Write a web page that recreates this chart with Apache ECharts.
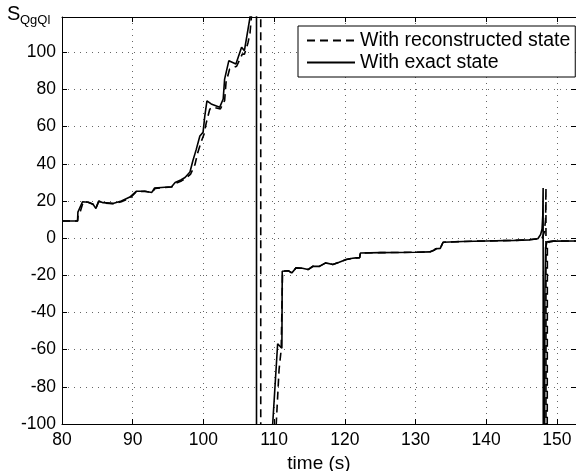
<!DOCTYPE html>
<html>
<head>
<meta charset="utf-8">
<script src="https://cdn.jsdelivr.net/npm/echarts@6/dist/echarts.min.js"></script>
<style>
  html, body { margin: 0; padding: 0; background: #fff; }
  #chart { width: 576px; height: 471px; }
</style>
</head>
<body>
<div id="chart"></div>
<script>
// time (s) and S_QgQl; large values are the jumps that leave the axes
var exactTime = [80, 82.2, 82.25, 82.5, 82.9, 83.7, 84.4, 84.8, 85.2, 85.8, 87.2, 88.4, 89.6, 90.5, 91.7, 92.7, 93.1, 95.5, 96, 96.8, 97.4, 98.1, 98.5, 99, 99.5, 99.95, 100.2, 100.5, 101.1, 102.3, 102.8, 103, 103.6, 104.6, 105.4, 105.8, 106.6, 106.9, 107.3, 107.5, 107.52, 109.3, 109.8, 110.5, 110.8, 111.1, 111.15, 111.4, 112, 112.5, 113.1, 114, 114.8, 115.5, 116.4, 117.3, 118.3, 119.2, 120.2, 121.1, 121.6, 122.1, 122.2, 125, 130, 132, 132.6, 132.9, 133.5, 133.9, 136.7, 140, 144, 146.1, 147.3, 147.7, 147.9, 148.0, 148.05, 148.1, 148.12, 148.3, 148.4, 148.6, 149.5, 152.7];
var exactS = [9.2, 9.2, 14, 14.5, 19.6, 19.3, 18.2, 16, 20, 19.1, 18.7, 20, 22.1, 25.2, 25.2, 24.6, 27, 27.7, 29.9, 31.3, 32.6, 35.6, 41.5, 47.9, 55, 56.9, 65.8, 73.9, 72.2, 70.4, 74.9, 85.6, 95.5, 93.7, 102.7, 100.9, 119, 200, 800, 5000, -5000, -400, -100, -56.8, -58, -59.2, -17.8, -17.3, -17.5, -18.7, -16, -16.2, -16.9, -15.1, -15.2, -13.3, -14.2, -13, -11.5, -10.8, -10.6, -10.5, -8, -7.8, -7.6, -7.4, -6.5, -5.7, -5.5, -2.2, -1.8, -1.5, -1.2, -0.9, -0.3, 2, 5, 12, 27, 27, -400, -30, -5, -2, -1.6, -1.5];

var reconTime = [80, 82.2, 82.3, 82.6, 83, 83.7, 84.4, 84.8, 85.2, 85.8, 87.2, 88.4, 89.6, 90.5, 91.7, 92.7, 93.2, 95.5, 96.1, 96.9, 97.5, 98.2, 98.8, 99.2, 99.7, 100.1, 100.4, 100.9, 101.4, 102.4, 103, 103.2, 103.7, 104.7, 105.5, 105.8, 106.3, 106.6, 106.8, 107.2, 107.8, 108.1, 108.12, 109.8, 110.3, 110.7, 111.0, 111.15, 111.2, 111.4, 112, 112.5, 113.1, 114, 114.8, 115.5, 116.4, 117.3, 118.3, 119.2, 120.2, 121.1, 121.6, 122.1, 122.2, 125, 130, 132, 132.6, 132.9, 133.5, 133.9, 136.7, 140, 144, 146.1, 147.3, 147.9, 148.2, 148.4, 148.45, 148.55, 148.57, 148.6, 148.65, 148.9, 149.5, 152.7];
var reconS = [9.2, 9.2, 13, 14.5, 19.5, 19.3, 18.2, 16.3, 19.8, 19, 18.5, 19.6, 21.5, 25, 25.2, 24.6, 26.8, 27.5, 29.5, 30.8, 32.2, 34.5, 39.5, 46, 52, 56, 62, 69.4, 70.5, 69.5, 74, 83.8, 90.9, 92.5, 99, 99, 105, 110.6, 119.6, 250, 1000, 5000, -5000, -400, -100, -70.8, -60, -59, -17.8, -17.3, -17.5, -18.7, -16, -16.2, -16.9, -15.1, -15.2, -13.3, -14.2, -13, -11.5, -10.8, -10.6, -10.5, -8, -7.8, -7.6, -7.4, -6.5, -5.7, -5.5, -2.2, -1.8, -1.5, -1.2, -0.9, -0.3, 0, 3, 10, 27, 27, -5000, -300, -4.3, -2, -1.6, -1.5];

var xTicks = [80, 90, 100, 110, 120, 130, 140, 150];
var yTicks = [-100, -80, -60, -40, -20, 0, 20, 40, 60, 80, 100];

function pairs(t, v) {
  var out = [];
  t.forEach(function (x, i) { out.push([x, v[i]]); });
  return out;
}

var chart = echarts.init(document.getElementById('chart'));
var font = "'Liberation Sans', Arial, Helvetica, sans-serif";

var option = {
  animation: false,
  backgroundColor: '#fff',
  textStyle: { fontFamily: font, color: '#000' },
  grid: { left: 62, right: 0, top: 17, bottom: 47, containLabel: false, outerBoundsMode: 'none' },
  legend: {
    left: 298,
    top: 26,
    orient: 'vertical',
    backgroundColor: '#fff',
    borderColor: '#000',
    borderWidth: 1,
    borderRadius: 0,
    padding: [4, 5, 4, 8],
    itemWidth: 48,
    itemHeight: 14,
    itemGap: 1,
    itemStyle: { opacity: 0 },
    textStyle: { fontFamily: font, fontSize: 19.5, color: '#000', lineHeight: 21 },
    data: ['With reconstructed state', 'With exact state']
  },
  xAxis: [{
    type: 'value',
    min: 80,
    max: 152.7,
    interval: 10,
    name: 'time (s)',
    nameLocation: 'middle',
    nameGap: 24,
    nameTextStyle: { fontFamily: font, fontSize: 19, color: '#000' },
    axisLine: { show: true, onZero: false, lineStyle: { color: '#000', width: 1 } },
    axisTick: { show: true, inside: true, length: 5, lineStyle: { color: '#000' } },
    axisLabel: {
      fontFamily: font, fontSize: 17.5, color: '#000', margin: 7,
      formatter: function (v) { return xTicks.indexOf(v) >= 0 ? String(v) : ''; }
    },
    splitLine: { show: true, lineStyle: { color: '#666', width: 1, type: [1, 5] } }
  }, {
    type: 'value',
    position: 'top',
    min: 80,
    max: 152.7,
    interval: 10,
    axisLine: { show: true, onZero: false, lineStyle: { color: '#000', width: 1 } },
    axisTick: { show: true, inside: true, length: 5, lineStyle: { color: '#000' } },
    axisLabel: { show: false },
    splitLine: { show: false }
  }],
  yAxis: [{
    type: 'value',
    min: -100,
    max: 119,
    interval: 20,
    axisLine: { show: true, onZero: false, lineStyle: { color: '#000', width: 1 } },
    axisTick: { show: true, inside: true, length: 5, lineStyle: { color: '#000' } },
    axisLabel: {
      fontFamily: font, fontSize: 17.5, color: '#000', margin: 6,
      formatter: function (v) { return yTicks.indexOf(v) >= 0 ? String(v) : ''; }
    },
    splitLine: { show: true, lineStyle: { color: '#666', width: 1, type: [1, 5] } }
  }, {
    type: 'value',
    position: 'right',
    min: -100,
    max: 119,
    interval: 20,
    axisLine: { show: true, onZero: false, lineStyle: { color: '#000', width: 1 } },
    axisTick: { show: true, inside: true, length: 5, lineStyle: { color: '#000' } },
    axisLabel: { show: false },
    splitLine: { show: false }
  }],
  graphic: [
    { type: 'text', left: 7, top: 4, style: { text: 'S', fontFamily: font, fontSize: 20, fill: '#000' } },
    { type: 'text', left: 20, top: 14, style: { text: 'QgQl', fontFamily: font, fontSize: 13, fill: '#000' } }
  ],
  series: [{
    name: 'With reconstructed state',
    type: 'line',
    symbol: 'none',
    clip: true,
    lineStyle: { color: '#000', width: 1.6, type: [8, 5] },
    itemStyle: { color: '#000' },
    data: pairs(reconTime, reconS)
  }, {
    name: 'With exact state',
    type: 'line',
    symbol: 'none',
    clip: true,
    lineStyle: { color: '#000', width: 1.6 },
    itemStyle: { color: '#000' },
    data: pairs(exactTime, exactS)
  }]
};

chart.setOption(option);
</script>
</body>
</html>
